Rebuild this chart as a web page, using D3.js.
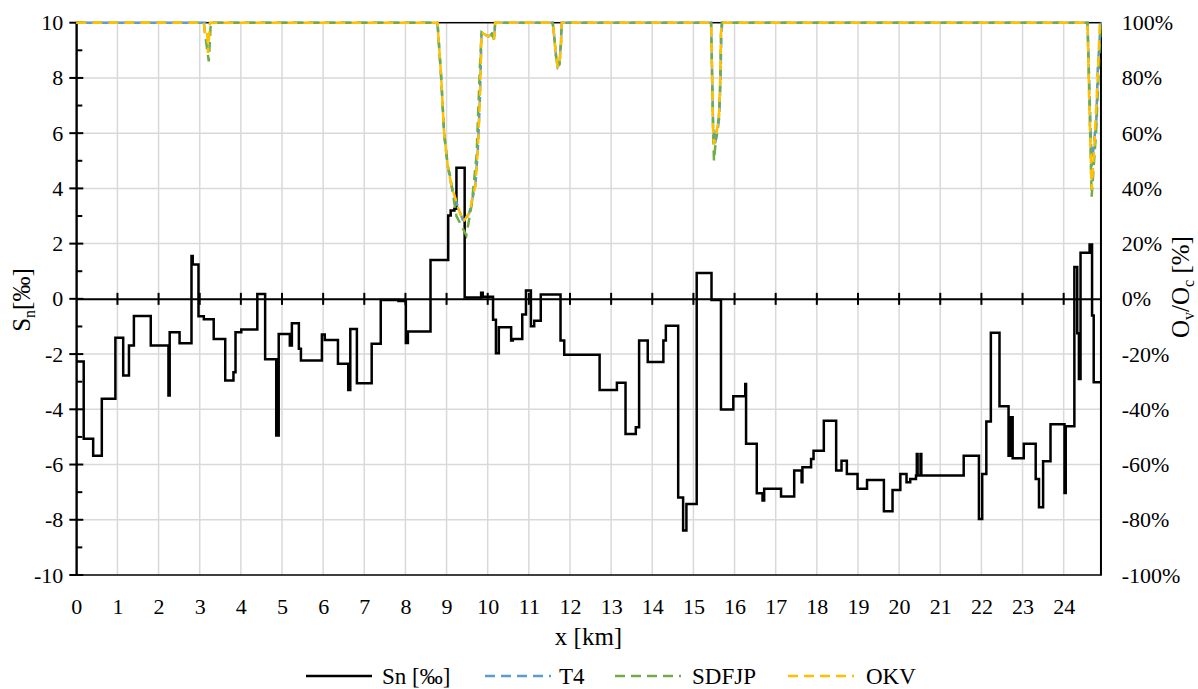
<!DOCTYPE html>
<html>
<head>
<meta charset="utf-8">
<script src="https://cdn.jsdelivr.net/npm/d3@7"></script>
<style>
  html, body { margin: 0; padding: 0; background: #fff; }
</style>
</head>
<body>
<svg id="chart" width="1198" height="689"></svg>
<script>
// Sn gradient profile: step starts (km) and values (‰)
const snX = [0.00,0.18,0.41,0.62,0.95,1.14,1.28,1.40,1.81,2.24,2.27,2.51,2.80,2.83,2.97,3.10,3.34,3.62,3.82,3.87,4.01,4.40,4.59,4.86,4.92,
  5.19,5.24,5.41,5.46,5.97,6.04,6.36,6.61,6.66,6.82,7.18,7.40,7.83,8.01,8.06,8.61,9.04,9.10,9.19,9.24,9.44,9.84,9.88,
  10.13,10.20,10.27,10.57,10.61,10.84,10.93,11.05,11.13,11.29,11.77,11.86,12.72,13.14,13.35,13.60,13.68,13.89,14.27,14.33,
  14.63,14.75,14.83,15.08,15.44,15.67,15.97,16.26,16.28,16.54,16.68,16.72,17.13,17.45,17.63,17.65,17.86,17.92,18.17,18.47,
  18.60,18.73,18.99,19.22,19.63,19.84,20.03,20.18,20.27,20.41,20.43,20.45,20.52,20.54,21.57,21.94,22.02,22.12,22.23,22.44,
  22.66,22.70,22.76,23.03,23.32,23.40,23.50,23.68,24.02,24.05,24.26,24.33,24.37,24.41,24.63,24.69,24.73,24.90];
const snY = [-2.27,-5.07,-5.68,-3.62,-1.41,-2.78,-1.69,-0.62,-1.69,-3.50,-1.21,-1.61,1.55,1.24,-0.63,-0.74,-1.45,-2.96,-2.66,-1.21,-1.11,0.18,-2.19,-4.95,-1.27,
  -1.69,-0.88,-1.81,-2.23,-1.29,-1.49,-2.35,-3.30,-1.09,-3.06,-1.63,-0.04,-0.08,-1.60,-1.18,1.41,3.02,3.20,3.26,4.75,0.05,0.22,0.08,
  -0.76,-1.97,-1.03,-1.51,-1.45,-0.57,0.30,-0.99,-0.79,0.16,-1.51,-2.02,-3.30,-3.04,-4.89,-4.65,-1.51,-2.29,-1.51,-0.97,
  -7.19,-8.39,-7.43,0.94,-0.04,-4.01,-3.53,-3.08,-5.25,-7.04,-7.30,-6.88,-7.16,-6.22,-6.64,-6.10,-5.80,-5.50,-4.41,-6.22,
  -5.86,-6.34,-6.88,-6.56,-7.69,-6.92,-6.34,-6.64,-6.52,-6.40,-5.62,-6.40,-5.62,-6.40,-5.68,-7.97,-6.34,-4.44,-1.23,-3.89,
  -5.68,-4.29,-5.77,-5.25,-6.52,-7.55,-5.88,-4.54,-7.03,-4.61,1.15,-1.25,-2.90,1.67,1.97,-0.60,-3.02,-3.02];

// Ov/Oc ratios (%) for the three methods
const t4X = [0,8.78,8.87,8.94,9.03,9.12,9.28,9.41,9.55,9.70,9.76,9.81,9.85,9.90,10.02,10.10,10.15,10.17,10.18,
  11.58,11.61,11.66,11.70,11.74,11.78,11.80,15.43,15.48,15.52,15.58,15.63,15.66,15.68,15.70,24.58,24.68,24.76,24.79,24.83,24.90];
const t4Y = [100,100,80,60,48,41,33,28,31,41,54,72,96.5,96,95,96,94,97,100,
  100,96,88,84,85,93,100,100,62,56,60,66,80,96,100,100,48,60,63,84,100];

const sdfjpX = [0,3.10,3.13,3.22,3.27,8.78,8.87,8.94,9.03,9.08,9.24,9.48,9.61,9.73,9.81,9.85,9.90,10.02,10.10,10.15,10.17,10.18,
  11.58,11.61,11.66,11.70,11.74,11.78,11.80,15.43,15.48,15.50,15.56,15.62,15.65,15.67,15.69,24.58,24.68,24.79,24.90];
const sdfjpY = [100,100,96,86,100,100,80,60,48,45,30,23,34,52,84,96.5,96,95,96,94,97,100,
  100,96,88,84,84,92,100,100,60,50,60,66,78,96,100,100,37,61,100];

const okvX = [0,3.10,3.13,3.18,3.20,3.25,8.78,8.87,8.94,9.03,9.12,9.28,9.41,9.55,9.70,9.76,9.81,9.85,9.90,10.02,10.10,10.15,10.17,10.18,
  11.58,11.61,11.66,11.70,11.74,11.78,11.80,15.43,15.48,15.50,15.56,15.62,15.65,15.67,15.69,24.58,24.62,24.68,24.74,24.82,24.88,24.90];
const okvY = [100,100,96,97,89,100,100,80,60,48,41,33,28,31,41,54,72,96.5,96,95,96,94,97,100,
  100,96,88,84,84,92,100,100,60,56,60,66,78,96,100,100,72,39.5,54,78,100,100];

const xTicks = d3.range(0, 25);
const leftTicks = d3.range(-10, 11, 2);
const rightTicks = d3.range(-100, 101, 20);

const seriesNames = ["Sn [‰]", "T4", "SDFJP", "OKV"];
const seriesColors = ["#000000", "#5B9BD5", "#70AD47", "#FFC000"];

// ---- layout ----
const svg = d3.select("#chart");
const L = 76.3, R = 1100.7, T = 22.7, B = 575;
const TICK_FONT = 22, TITLE_FONT = 25, LEGEND_FONT = 23;
const FAMILY = "Liberation Serif";
const DASH = "10,6";
const dashOffsets = [8, 0, 0];   // T4 runs half a period out of phase with the others

const x = d3.scaleLinear().domain([0, 24.9]).range([L, R]);
const yL = d3.scaleLinear().domain([-10, 10]).range([B, T]);
const yR = d3.scaleLinear().domain([-100, 100]).range([B, T]);

const hyphen = s => String(s).replace("\u2212", "-");

// gridlines
const grid = svg.append("g").attr("stroke", "#d9d9d9").attr("stroke-width", 1.5);
grid.selectAll("line.v").data(xTicks.filter(d => d > 0)).enter().append("line")
  .attr("x1", d => x(d)).attr("x2", d => x(d)).attr("y1", T).attr("y2", B);
grid.selectAll("line.h").data(leftTicks.filter(d => d > -10 && d < 10 && d !== 0)).enter().append("line")
  .attr("x1", L).attr("x2", R).attr("y1", d => yL(d)).attr("y2", d => yL(d));

// plot frame
svg.append("rect").attr("x", L).attr("y", T).attr("width", R - L).attr("height", B - T)
  .attr("fill", "none").attr("stroke", "#000").attr("stroke-width", 1.5);

function styleTicks(g) {
  g.selectAll("text").style("font-family", FAMILY).style("font-size", TICK_FONT + "px").attr("fill", "#000");
}

// left axis: major cross ticks, minor inside ticks
const leftAxis = svg.append("g").attr("transform", `translate(${L},0)`);
leftAxis.call(d3.axisLeft(yL).tickValues(leftTicks).tickSize(0).tickPadding(13).tickFormat(d => hyphen(d)))
  .call(g => g.select(".domain").attr("stroke-width", 2))
  .call(styleTicks);
leftAxis.selectAll("line.maj").data(leftTicks).enter().append("line")
  .attr("x1", -7).attr("x2", 7).attr("y1", d => yL(d)).attr("y2", d => yL(d))
  .attr("stroke", "#000").attr("stroke-width", 2);
leftAxis.selectAll("line.min").data(d3.range(-9, 10, 2)).enter().append("line")
  .attr("x1", 0).attr("x2", 6).attr("y1", d => yL(d)).attr("y2", d => yL(d))
  .attr("stroke", "#000").attr("stroke-width", 2);

// horizontal axis line at Sn = 0 with cross ticks
const zeroAxis = svg.append("g").attr("transform", `translate(0,${yL(0)})`);
zeroAxis.call(d3.axisBottom(x).tickValues(xTicks).tickSize(0).tickFormat(""))
  .call(g => g.select(".domain").attr("stroke-width", 2));
zeroAxis.selectAll("line.tk").data(xTicks.filter(d => d > 0)).enter().append("line")
  .attr("x1", d => x(d)).attr("x2", d => x(d)).attr("y1", -6).attr("y2", 6)
  .attr("stroke", "#000").attr("stroke-width", 2);

// x labels along the bottom
const bottomAxis = svg.append("g").attr("transform", `translate(0,${B})`);
bottomAxis.call(d3.axisBottom(x).tickValues(xTicks).tickSize(0).tickPadding(23).tickFormat(d3.format("d")))
  .call(g => g.select(".domain").remove())
  .call(styleTicks);

// right axis labels
const rightAxis = svg.append("g").attr("transform", `translate(${R},0)`);
rightAxis.call(d3.axisRight(yR).tickValues(rightTicks).tickSize(0).tickPadding(21).tickFormat(d => hyphen(d) + "%"))
  .call(g => g.select(".domain").attr("stroke-width", 1.5))
  .call(styleTicks);

// Sn step line
const snData = snX.map((d, i) => [d, snY[i]]);
svg.append("path").datum(snData)
  .attr("fill", "none").attr("stroke", seriesColors[0]).attr("stroke-width", 2.5)
  .attr("stroke-linejoin", "miter")
  .attr("d", d3.line().x(d => x(d[0])).y(d => yL(d[1])).curve(d3.curveStepAfter));

// ratio series on the secondary axis
const ratioSeries = [[t4X, t4Y], [sdfjpX, sdfjpY], [okvX, okvY]];
const ratioLine = d3.line().x(d => x(d[0])).y(d => yR(d[1]));
ratioSeries.forEach(([xs, ys], i) => {
  svg.append("path").datum(xs.map((d, j) => [d, ys[j]]))
    .attr("fill", "none").attr("stroke", seriesColors[i + 1]).attr("stroke-width", 2.5)
    .attr("stroke-dasharray", DASH).attr("stroke-dashoffset", dashOffsets[i])
    .attr("d", ratioLine);
});

// axis titles (rotated, with subscripts)
function title(tx, parts) {
  const t = svg.append("text").attr("transform", tx).attr("text-anchor", "middle")
    .style("font-family", FAMILY).style("font-size", TITLE_FONT + "px").attr("fill", "#000");
  let shifted = false;
  parts.forEach(([s, sub]) => {
    const sp = t.append("tspan").text(s);
    if (sub) { sp.style("font-size", "16px").attr("dy", 5); shifted = true; }
    else if (shifted) { sp.attr("dy", -5); shifted = false; }
  });
  return t;
}
title(`translate(30,300) rotate(-90)`, [["S", false], ["n", true], ["[‰]", false]]);
title(`translate(1189,287) rotate(-90)`, [["O", false], ["v", true], ["/O", false], ["c", true], [" [%]", false]]);

svg.append("text").attr("x", (L + R) / 2).attr("y", 645).attr("text-anchor", "middle")
  .style("font-family", FAMILY).style("font-size", TITLE_FONT + "px").attr("fill", "#000").text("x [km]");

// legend
const legendLineX = [306, 485, 615, 788];
const legendTextX = [382, 559, 692, 866];
seriesNames.forEach((name, i) => {
  svg.append("line").attr("x1", legendLineX[i]).attr("x2", legendLineX[i] + 66).attr("y1", 676).attr("y2", 676)
    .attr("stroke", seriesColors[i]).attr("stroke-width", 2.5)
    .attr("stroke-dasharray", i === 0 ? null : DASH);
  svg.append("text").attr("x", legendTextX[i]).attr("y", 684)
    .style("font-family", FAMILY).style("font-size", LEGEND_FONT + "px").attr("fill", "#000").text(name);
});
</script>
</body>
</html>
